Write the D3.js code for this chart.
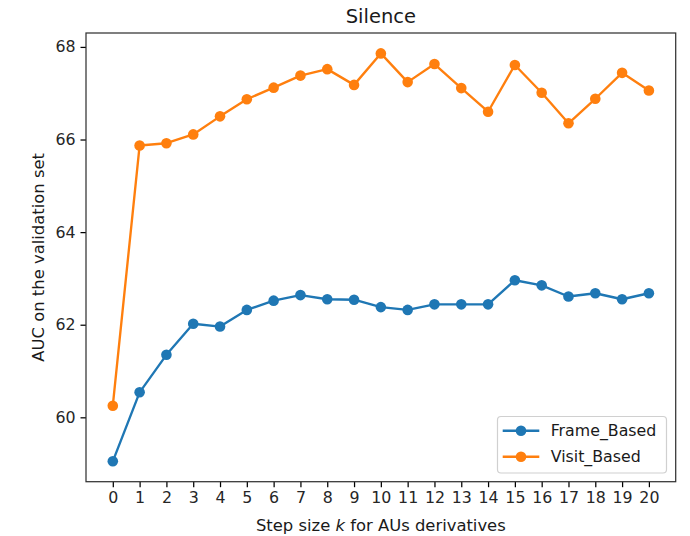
<!DOCTYPE html>
<html>
<head>
<meta charset="utf-8">
<script src="https://cdn.jsdelivr.net/npm/d3@7"></script>
<style>
html,body{margin:0;padding:0;background:#fff;}
svg{display:block;font-family:"DejaVu Sans",sans-serif;}
</style>
</head>
<body>
<svg id="chart" width="690" height="536"></svg>
<script>
const steps = [0,1,2,3,4,5,6,7,8,9,10,11,12,13,14,15,16,17,18,19,20];
const frameBased = [59.05,60.54,61.35,62.02,61.96,62.32,62.52,62.64,62.55,62.54,62.38,62.32,62.44,62.44,62.44,62.96,62.85,62.61,62.68,62.55,62.68];
const visitBased = [60.25,65.87,65.92,66.11,66.50,66.87,67.12,67.38,67.52,67.18,67.86,67.24,67.63,67.11,66.60,67.61,67.01,66.35,66.88,67.44,67.06];
const yTicks = [60,62,64,66,68];
const seriesNames = ["Frame_Based","Visit_Based"];
const seriesColors = ["#1f77b4","#ff7f0e"];
const titleText = "Silence";
const yLabelText = "AUC on the validation set";

const svg = d3.select("#chart");
const L = 86, R = 675.7, T = 33, B = 481.7;
const fs = 15.8, lfs = 16.4;

const all = frameBased.concat(visitBased);
const ymin = d3.min(all), ymax = d3.max(all);
const ypad = (ymax - ymin) * 0.05;
const x = d3.scaleLinear().domain([-1, 21]).range([L, R]);
const y = d3.scaleLinear().domain([ymin - ypad, ymax + ypad]).range([B, T]);

// axes
const xAxis = d3.axisBottom(x).tickValues(steps).tickFormat(d3.format("d")).tickSize(5.5).tickPadding(5);
const yAxis = d3.axisLeft(y).tickValues(yTicks).tickFormat(d3.format("d")).tickSize(5.5).tickPadding(5);

const gx = svg.append("g").attr("transform", `translate(0,${B})`).call(xAxis);
const gy = svg.append("g").attr("transform", `translate(${L},0)`).call(yAxis);
[gx, gy].forEach(g => {
  g.select(".domain").remove();
  g.selectAll(".tick line").attr("stroke", "#000").attr("stroke-width", 1.25);
  g.selectAll(".tick text").attr("fill", "#262626").style("font-size", fs + "px").style("font-family", "DejaVu Sans");
});

// spines
svg.append("rect").attr("x", L).attr("y", T).attr("width", R - L).attr("height", B - T)
  .attr("fill", "none").attr("stroke", "#333").attr("stroke-width", 1.25);

// lines
const series = [frameBased, visitBased];
const line = d3.line().x((d, i) => x(steps[i])).y(d => y(d));
series.forEach((s, k) => {
  svg.append("path").datum(s).attr("d", line).attr("fill", "none")
    .attr("stroke", seriesColors[k]).attr("stroke-width", 2.35).attr("stroke-linejoin", "round");
  svg.append("g").selectAll("circle").data(s).join("circle")
    .attr("cx", (d, i) => x(steps[i])).attr("cy", d => y(d)).attr("r", 5.3)
    .attr("fill", seriesColors[k]);
});

// title & labels
svg.append("text").attr("x", (L + R) / 2).attr("y", 23.3).attr("text-anchor", "middle")
  .style("font-size", "19.5px").attr("fill", "#1a1a1a").text(titleText);

const xl = svg.append("text").attr("x", (L + R) / 2).attr("y", 530.8).attr("text-anchor", "middle")
  .style("font-size", lfs + "px").attr("fill", "#1a1a1a");
xl.append("tspan").text("Step size ");
xl.append("tspan").style("font-style", "italic").text("k");
xl.append("tspan").text(" for AUs derivatives");

svg.append("text").attr("transform", `translate(43.5,${(T + B) / 2}) rotate(-90)`).attr("text-anchor", "middle")
  .style("font-size", lfs + "px").attr("fill", "#1a1a1a").text(yLabelText);

// legend
const lg = svg.append("g");
lg.append("rect").attr("x", 497.5).attr("y", 416.5).attr("width", 169).attr("height", 56.5)
  .attr("rx", 3.5).attr("fill", "#fff").attr("fill-opacity", 0.8).attr("stroke", "#d0d0d0").attr("stroke-width", 1.2);
seriesNames.forEach((name, k) => {
  const yy = 430.7 + k * 26;
  lg.append("line").attr("x1", 502.7).attr("x2", 539.3).attr("y1", yy).attr("y2", yy)
    .attr("stroke", seriesColors[k]).attr("stroke-width", 2.35);
  lg.append("circle").attr("cx", 521).attr("cy", yy).attr("r", 5.3).attr("fill", seriesColors[k]);
  lg.append("text").attr("x", 550.7).attr("y", yy).attr("dy", "0.36em")
    .style("font-size", fs + "px").attr("fill", "#1a1a1a").text(name);
});
</script>
</body>
</html>
